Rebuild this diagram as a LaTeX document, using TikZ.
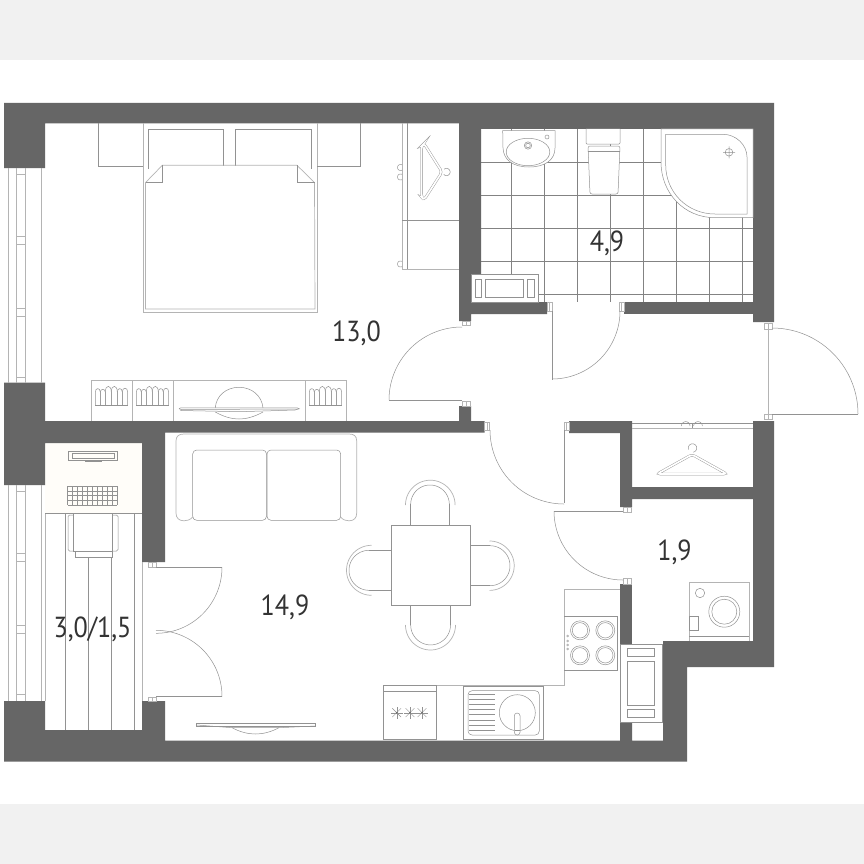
\documentclass[tikz,border=0pt]{standalone}
\usepackage{fontspec}
\setmainfont{PT Sans}
\definecolor{wallc}{HTML}{666666}
\definecolor{linec}{HTML}{929292}
\definecolor{soft}{HTML}{B4B4B4}
\definecolor{bandc}{HTML}{F1F1F1}
\definecolor{cream}{HTML}{FFFDF9}
\definecolor{textc}{HTML}{333333}
\tikzset{
  wall/.style={fill=wallc,draw=none},
  ln/.style={draw=linec,line width=.5pt},
  lnf/.style={draw=linec,line width=.5pt,fill=white},
  lt/.style={draw=soft,line width=.7pt},
  dbl/.style={draw=linec,line width=.4pt,double=white,double distance=1.7pt},
  tile/.style={draw=linec!90!black,line width=.5pt},
  lab/.style={text=textc,font=\fontsize{29}{29}\selectfont,inner sep=0pt},
  jamb/.style={draw=soft,line width=.6pt,fill=white},
}
\newcommand\narrowtext[1]{\scalebox{.9}[1]{#1}}
% arc in page pixels: centre x, centre y, radius, from angle, to angle (y grows downward)
\newcommand\parc[6][ln]{\draw[#1] plot[domain=#5:#6,samples=36,smooth] ({#2+#4*cos(\x)},{#3+#4*sin(\x)});}
\newcommand\bookrow[1]{%
  \begin{scope}[shift={(#1,0)}]
  \foreach \p/\q/\t in {0/5/387.5,5/10/388.5,10/16/384.5,16/22/384.5,22/27/387.5,27/32.4/387}{
    \draw[ln] (\p,405.3) -- (\p,392) .. controls (\p,\t) and (\q,\t) .. (\q,392) -- (\q,405.3);
  }
  \draw[ln] (0,405.3) -- (32.4,405.3);
  \end{scope}}
\newcommand\burner[2]{\draw[ln] (#1,#2) circle[radius=9.5] (#1,#2) circle[radius=7.7];}
\newcommand\ovenstar[2]{\foreach \a in {0,45,...,315}{\draw[draw=linec,line width=.4pt] (#1,#2) -- ++({6.2*cos(\a)},{6.2*sin(\a)});}\fill[wallc] (#1,#2) circle[radius=.9];}
\begin{document}
\begin{tikzpicture}[x=1pt,y=-1pt]
\useasboundingbox (0,0) rectangle (864,864);
\fill[white] (0,0) rectangle (864,864);
\fill[bandc] (0,0) rectangle (864,60);
\fill[bandc] (0,804) rectangle (864,864);

% balcony
\fill[cream] (45,443) rectangle (142,513);

% tile grid of the bathroom
\begin{scope}
\clip (481,129) rectangle (753,302);
\foreach \x in {511.7,544.7,577.5,610.3,643.2,676,709,742}{\draw[tile] (\x,129) -- (\x,302);}
\foreach \y in {162.3,195.3,228.3,261.7,294}{\draw[tile] (481,\y) -- (753,\y);}
\end{scope}

% walls
\fill[wall] (4,103) -- (774,103) -- (774,322) -- (753,322) -- (753,302.3) -- (753,129) -- (481,129)
  -- (481,274) -- (471,274) -- (471,302) -- (547,302) -- (547,314) -- (471,314) -- (471,321) -- (459,321)
  -- (459,123.5) -- (45,123.5) -- (45,168) -- (4,168) -- cycle;
\fill[wall] (624,302.3) rectangle (753,314);
\fill[wall] (4,382.7) -- (45,382.7) -- (45,421) -- (459,421) -- (459,406) -- (471,406) -- (471,421) -- (484.7,421)
  -- (484.7,432.7) -- (165,432.7) -- (165,562) -- (142,562) -- (142,443) -- (45,443) -- (45,485) -- (4,485) -- cycle;
\fill[wall] (569,421) -- (632,421) -- (632,487) -- (753,487) -- (753,421) -- (774,421) -- (774,667) -- (687,667) -- (687,761.7)
  -- (4,761.7) -- (4,701) -- (45,701) -- (45,730) -- (142,730) -- (142,701) -- (165,701) -- (165,740.5)
  -- (620,740.5) -- (620,722) -- (632,722) -- (632,740.5) -- (663,740.5) -- (663,641) -- (753,641) -- (753,499)
  -- (632,499) -- (632,507) -- (620,507) -- (620,433) -- (569,433) -- cycle;
\fill[wall] (620,584) rectangle (632,644);

% left windows
\foreach \a/\b in {168/382.7,485/701}{
  \draw[lt] (8,\a) -- (8,\b) (16,\a) -- (16,\b) (25,\a) -- (25,\b) (41.7,\a) -- (41.7,\b);
}
\foreach \y in {174,236,244,308,316,377,491,553,561.7,625,633,694}{\draw[lt] (16,\y) -- (25,\y);}
\draw[lt] (45,513) -- (45,701);

% balcony furniture
\draw[ln] (45,513) -- (142,513);
\draw[lt] (142,562) -- (142,701);
\draw[ln] (65.3,513) -- (65.3,730) (134.3,513) -- (134.3,730) (88.3,557) -- (88.3,730) (111.3,557) -- (111.3,730);
\draw[ln] (68.5,451) rectangle (117,460);
\draw[ln] (72,453.5) rectangle (114,458);
\draw[ln] (85,460) -- (85,460.8) -- (101,460.8) -- (101,460);
\foreach \i in {0,...,10}{\draw[ln,line width=.45pt] ({67.7+4.95*\i},486) -- ({67.7+4.95*\i},505.2);}
\foreach \i in {0,...,4}{\draw[ln,line width=.45pt] (67.7,{486+4.8*\i}) -- (117.2,{486+4.8*\i});}
\draw[lnf,rounded corners=1.5pt] (68,515) rectangle (118,551);
\draw[lnf] (73.5,513) rectangle (112.5,551);
\draw[lnf] (75,551) rectangle (112,557);

% bed
\draw[lt] (143,123.5) -- (143,312) -- (317,312) -- (317,123.5);
\draw[ln] (98.7,123.5) -- (98.7,166.5) -- (143,166.5);
\draw[ln] (360.3,123.5) -- (360.3,166.5) -- (317,166.5);
\draw[ln] (148.5,169) -- (148.5,129.3) -- (223.7,129.3) -- (223.7,165.5);
\draw[ln] (235.3,165.5) -- (235.3,129.3) -- (311.7,129.3) -- (311.7,169);
\draw[lt] (145.5,182.6) -- (162.3,165.3) -- (297,165.3) -- (314.5,182.6) -- (315,309) -- (145.5,309) -- cycle;
\draw[ln] (162.3,165.3) -- (162.3,182.6) -- (145.5,182.6);
\draw[ln] (297,165.3) -- (297,182.6) -- (314.5,182.6);

% wardrobe in the bedroom
\draw[lt] (402,123.5) -- (402,269) -- (459,269);
\draw[ln] (407,123.5) -- (407,269);
\draw[ln] (402,220) -- (459,220);
\parc{400.5}{167.5}{3}{60}{300}
\parc{400.5}{177}{3}{60}{300}
\parc{400.5}{264}{3}{60}{300}
\draw[dbl,rounded corners=3pt] (424,143.5) -- (442,172) -- (424,200) -- (421.5,197) -- (421.5,146) -- cycle;
\parc{446.5}{172}{3.6}{-130}{140}

% bathroom fittings
\draw[lnf] (502.7,130.7) -- (503,148) .. controls (503.5,160) and (513,167) .. (529,167) .. controls (545,167) and (555,160) .. (555,148) -- (555,130.7) -- cycle;
\draw[ln] (528,152) ellipse[x radius=21.8,y radius=13.7];
\draw[ln] (528,145.5) circle[radius=3.7] (528,145.5) circle[radius=2.3];
\draw[ln] (547,137) circle[radius=2];
\draw[lnf,rounded corners=1pt] (586,129) -- (586,144) -- (620,144) -- (620,129);
\draw[lnf,rounded corners=2pt] (588,146) -- (620,146) -- (618,194) -- (590,194) -- cycle;
\draw[ln] (588,151) -- (619.5,151);
\draw[lnf] (661,129) -- (661,162) .. controls (661,193) and (684,217.7) .. (715,217.7) -- (753,217.7) -- (753,129) -- cycle;
\draw[ln] (665.7,134.3) -- (723,134.3) .. controls (736,134.3) and (747,145) .. (747,157) -- (747,214) -- (715,214)
  .. controls (687,214) and (665.7,192) .. (665.7,165) -- cycle;
\draw[ln] (729,152.3) circle[radius=3.8] (723,152.3) -- (735,152.3) (729,146.3) -- (729,158.3);
\draw[lnf] (471.5,274.2) rectangle (538,302);
\draw[ln] (475,279) rectangle (481.7,297) (485.7,279) rectangle (523,297) (527.7,279) rectangle (534,297);

% jambs
\foreach \a/\b/\c/\d in {462/321/470.7/325.7, 462/401/470.7/406, 484.7/422/489.7/430, 564/422/569/430,
  547/302.5/552/311, 619/302.5/624/311, 764/323/772/329, 764/414/772/419.5, 623/507/631/512, 623/578/631/584,
  148/562.5/156/567, 148/697/156/701}{
  \draw[jamb] (\a,\b) rectangle (\c,\d);
  \draw[lt,line width=.4pt] ({(\a+\c)/2},\b) -- ({(\a+\c)/2},\d);
}

% door leaves and swings
\draw[ln] (462,400.5) -- (389,400.5);
\parc{462}{400}{73}{180}{270}
\draw[ln] (564,430) -- (564,503);
\parc{564}{430}{74}{90}{180}
\draw[ln] (552,311) -- (552,379.7);
\parc{552}{311}{68}{0}{90}
\draw[lt] (768.7,329) -- (768.7,414);
\draw[ln] (772,414) -- (858,414);
\parc{772}{414}{86}{-90}{0}
\draw[ln] (623,511) -- (554,511);
\parc{623}{511}{69}{90}{180}
\draw[ln] (156,567.3) -- (222,567.3);
\parc{156}{567.3}{66}{0}{90}
\draw[ln] (156,696.3) -- (222,696.3);
\parc{156}{696.3}{66}{-90}{0}

% cabinet under the bedroom window wall
\draw[lt] (91,421) -- (91,380) -- (346.7,380) -- (346.7,421);
\draw[lt] (132,380) -- (132,421) (173.3,380) -- (173.3,421) (305.3,380) -- (305.3,421);
\bookrow{95.3}
\bookrow{136.3}
\bookrow{309.3}
\draw[ln] (215.3,408) .. controls (216,396) and (226,387.3) .. (239,387.3) .. controls (252,387.3) and (262,396) .. (263,408);
\draw[ln] (215.3,412) .. controls (224,417) and (232,419) .. (239,419) .. controls (246,419) and (254,417) .. (263,412);
\draw[lnf] (179.3,408.5) -- (181,407.8) -- (297,407.8) -- (299.3,408.8) -- (295,410) -- (240,411.7) -- (181,410.5) -- cycle;
\draw[ln] (181,409.5) -- (297,409);

% sofa
\draw[lt] (192.7,517) .. controls (190,520) and (187,520.8) .. (184,520.8) .. controls (179,520.8) and (176,518) .. (176,513)
  -- (176,441) .. controls (176,436) and (179,434) .. (184,434) -- (349,434) .. controls (354,434) and (356.7,436) .. (356.7,441)
  -- (356.7,513) .. controls (356.7,518) and (354,520.8) .. (349,520.8) .. controls (346,520.8) and (343,520) .. (340.7,517);
\draw[ln,rounded corners=4pt] (192.7,450) rectangle (266.5,520.3);
\draw[ln,rounded corners=4pt] (267,450) rectangle (340.7,520.3);

% table and chairs
\draw[ln] (391,525.3) rectangle (470.3,605.3);
\draw[ln] (410.7,525.3) -- (410.7,504.3);
\parc{430}{504.3}{19.3}{180}{360}
\draw[ln] (449.3,525.3) -- (449.3,504.3);
\parc[lt]{430.3}{505}{24.8}{180}{360}
\draw[ln] (410.7,605.3) -- (410.7,625);
\draw[ln] (450.5,605.3) -- (450.5,625);
\parc{430.6}{625}{19.9}{0}{180}
\parc[lt]{430.5}{625}{25}{0}{180}
\draw[ln] (391,550.3) -- (369,550.3) (391,590.3) -- (369,590.3);
\parc{369}{570.3}{20}{90}{270}
\parc[lt]{371.5}{570.3}{25}{90}{270}
\draw[ln] (470.3,545.7) -- (490,545.7) (470.3,585.7) -- (490,585.7);
\parc{490}{565.7}{20}{-90}{90}
\parc[lt]{489.5}{565.7}{24.7}{-90}{90}

% television in the living room
\draw[ln] (232,727.7) .. controls (240,732) and (248,734) .. (255.5,734) .. controls (263,734) and (271,732) .. (279,727.7);
\draw[lnf] (196.7,723) -- (315.7,723) -- (315.7,726) -- (196.7,726) -- cycle;
\draw[ln] (196.7,725) -- (232,727.7) -- (279,727.7) -- (315.7,726);

% kitchen
\draw[lt] (564,589.3) -- (620,589.3) (564,589.3) -- (564,685.7) -- (383,685.7);
\draw[ln] (564,616.7) -- (617.3,616.7) -- (617.3,670) -- (564,670);
\burner{580}{630.3}
\burner{605.3}{630.3}
\burner{580}{655.3}
\burner{605.3}{655.3}
\foreach \y in {636,641,645,649}{\draw[ln,line width=.4pt] (567.7,\y) circle[radius=1];}
\draw[lnf] (383,685.7) rectangle (436.7,739.5);
\draw[ln] (383,691.7) -- (436.7,691.7);
\ovenstar{396.7}{712.7}
\ovenstar{410}{712.7}
\ovenstar{422}{712.7}
\draw[lnf] (463.3,686) rectangle (543.3,739.5);
\draw[ln,rounded corners=4pt] (468,690.7) rectangle (539.3,735);
\foreach \y in {694,699.3,704.3,709.3,714.7,720,725.3,730.7}{\draw[ln] (469,\y) -- (495,\y);}
\draw[ln] (517.3,712.7) circle[radius=18];
\draw[lnf,rounded corners=2.8pt] (514.3,713) rectangle (520,735);
\draw[ln] (514.8,730) -- (519.8,730);
\draw[lnf] (620,644) rectangle (662,722);
\draw[ln] (627,648.7) rectangle (654.3,656.7) (627,661.3) rectangle (654.3,705) (627,709.7) rectangle (654.3,717.7);

% washer
\draw[lt] (689,640.7) -- (689,582.7) -- (749,582.7) -- (749,640.7);
\draw[ln] (689,636) -- (749,636);
\draw[ln] (700,593) circle[radius=4.7];
\draw[ln] (724.3,611.7) circle[radius=15.5] (724.3,611.7) circle[radius=12.5];
\draw[ln] (689,616.7) rectangle (698.5,630.7);

% closet in the hall
\draw[ln] (632,423.3) -- (753,423.3);
\draw[lt] (632,428) -- (753,428);
\parc{685.7}{426}{4.3}{180}{360}
\parc{698}{426}{4.3}{180}{360}
\draw[ln] (692,423.3) -- (692,428);
\draw[dbl,rounded corners=3pt] (692,454.5) -- (727,474) -- (657,474) -- cycle;
\parc{692.5}{448}{4.2}{-200}{80}

% texts
\node[lab] (bedroom) at (356.5,333) {\narrowtext{13,0}};
\node[lab] (bath) at (607,243) {\narrowtext{4,9}};
\node[lab] (laundry) at (674.5,552) {\narrowtext{1,9}};
\node[lab] (living) at (285,607) {\narrowtext{14,9}};
\node[lab] (balcony) at (92.5,629.5) {\narrowtext{3,0/1,5}};
\end{tikzpicture}
\end{document}
